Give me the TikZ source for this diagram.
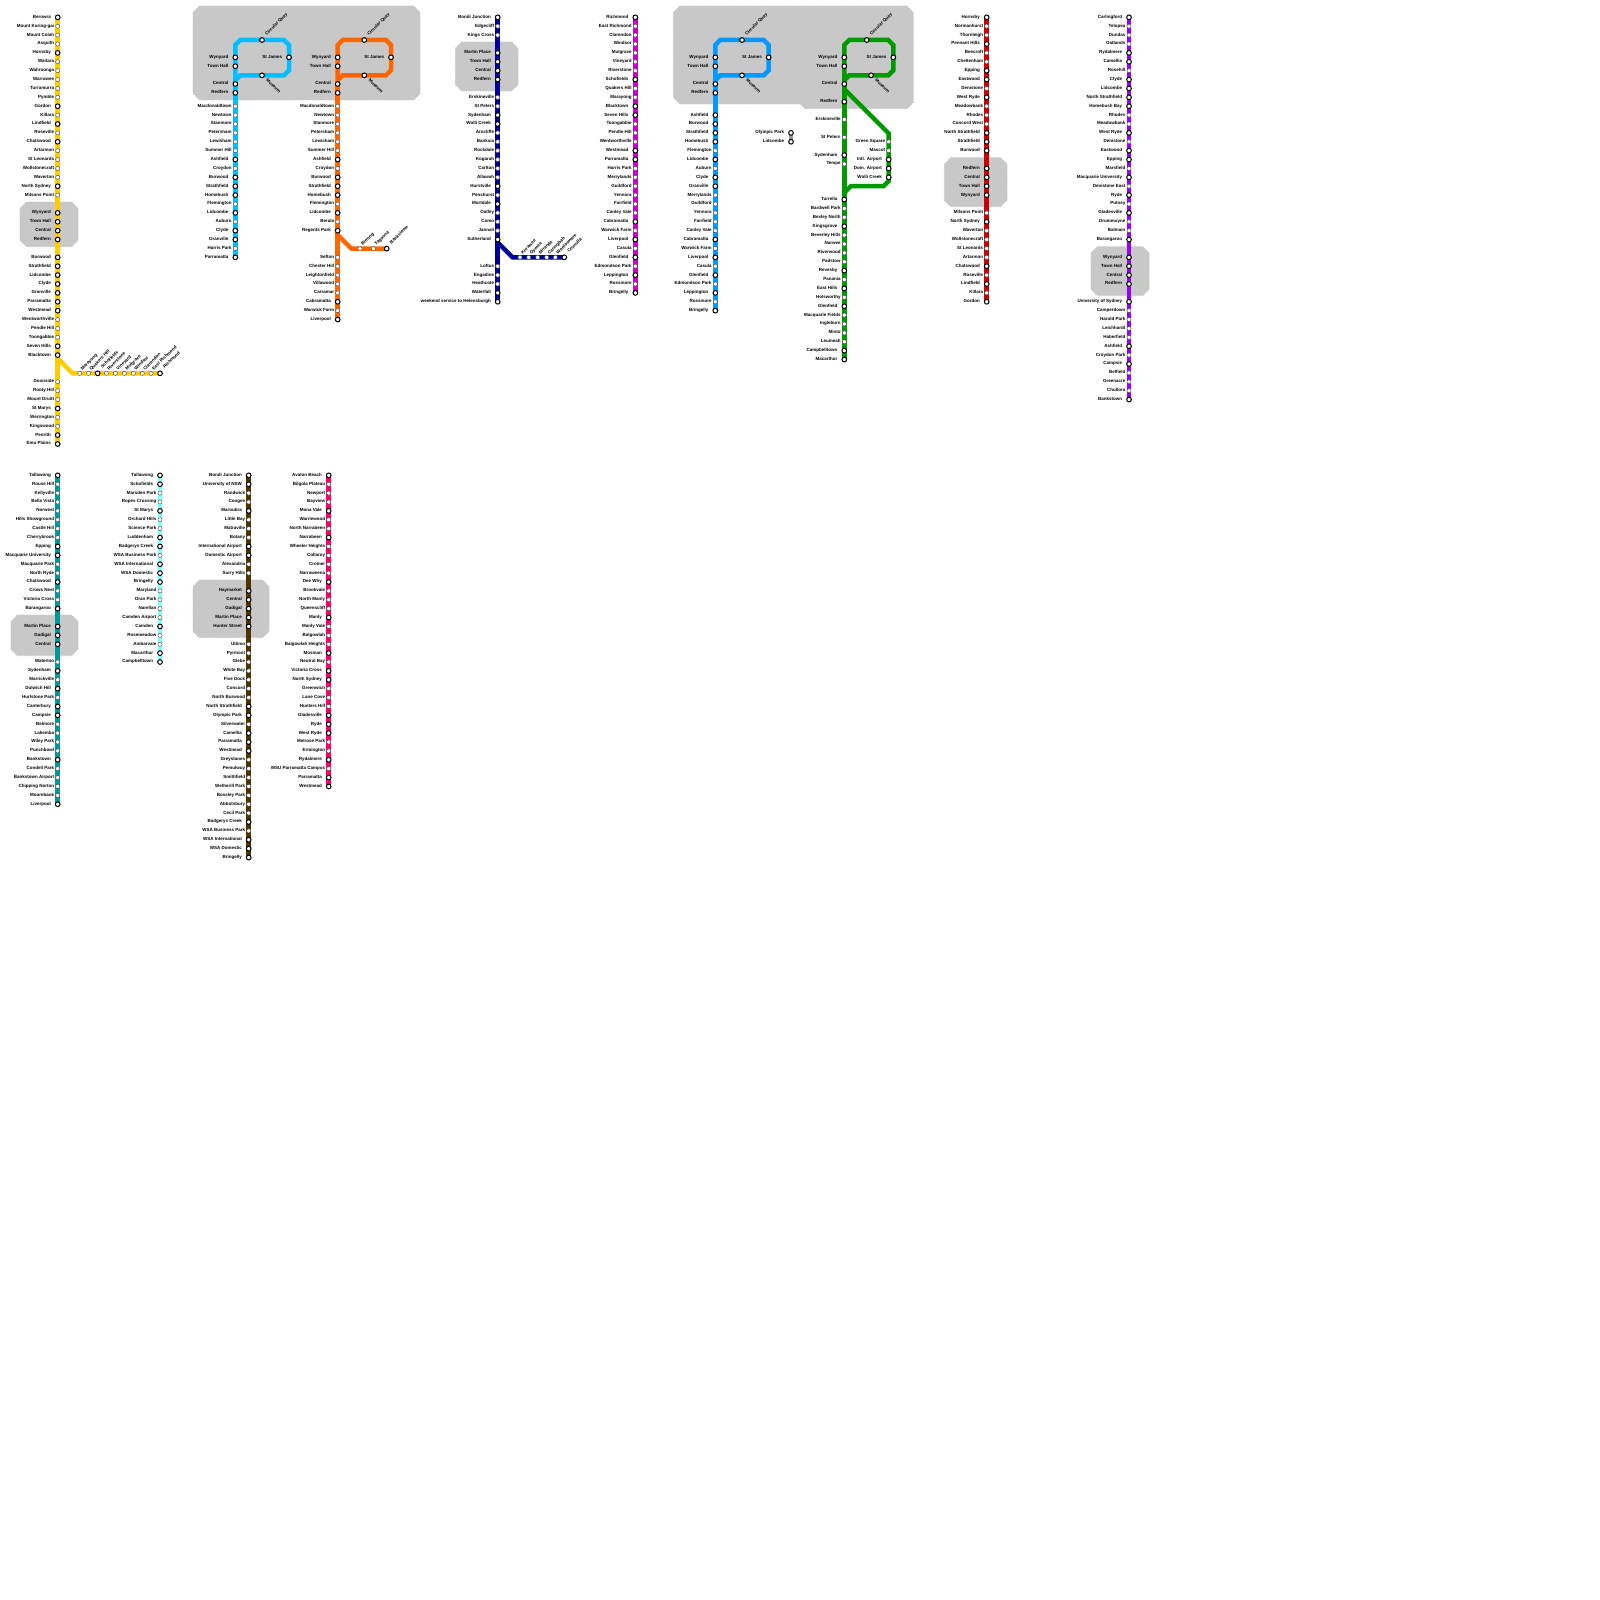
\documentclass[tikz,border=0pt]{standalone}
\usepackage{fontspec}
\setmainfont{Liberation Sans}
\pgfdeclarelayer{boxes}
\pgfdeclarelayer{routes}
\pgfsetlayers{boxes,routes,main}
\definecolor{cYellow}{HTML}{FFCC00}
\definecolor{cCyan}{HTML}{00BFFF}
\definecolor{cOrange}{HTML}{FF6600}
\definecolor{cNavy}{HTML}{000099}
\definecolor{cMagenta}{HTML}{CC00CC}
\definecolor{cBlue}{HTML}{0099FF}
\definecolor{cGreen}{HTML}{009900}
\definecolor{cRed}{HTML}{CC0000}
\definecolor{cPurple}{HTML}{9900FF}
\definecolor{cTeal}{HTML}{009999}
\definecolor{cAqua}{HTML}{80FFFF}
\definecolor{cBrown}{HTML}{4D3300}
\definecolor{cPink}{HTML}{FF0066}
\definecolor{cBox}{HTML}{C8C8C8}
\definecolor{cLink}{HTML}{999999}
\tikzset{
  sti/.style={circle,draw=black,fill=white,line width=1pt,minimum size=4.7pt,inner sep=0pt},
  stn/.style={circle,draw=black!75,fill=white,line width=0.4pt,minimum size=4.2pt,inner sep=0pt},
  labbase/.style={inner sep=0pt,font=\fontsize{4.5}{5}\bfseries\selectfont,text height=3pt,text depth=1.1pt},
  labi/.style={labbase,anchor=east,xshift=-6.7pt},
  labn/.style={labbase,anchor=east,xshift=-3.4pt},
  upi/.style={labbase,anchor=west,xshift=4pt,yshift=5pt,rotate=45},
  upn/.style={labbase,anchor=west,xshift=2pt,yshift=3.3pt,rotate=45},
  downi/.style={labbase,anchor=west,xshift=4.5pt,yshift=-4.5pt,rotate=-45},
  route/.style={line width=4.5pt,line join=miter,line cap=butt},
  areabox/.style={fill=cBox,draw=cBox,line width=0.8pt,dash pattern=on 1.6pt off 1.2pt}
}
% #1 prefix, #2 x, #3 y of slot 0, #4 slot/name/type list
\newcommand{\stationcolumn}[4]{%
  \foreach \pos/\nm/\ty in {#4}{%
    \node[st\ty] (#1 \nm) at (#2,{#3+8.889*\pos}) {};
    \node[lab\ty] (#1 \nm l) at (#1 \nm) {\nm};
  }%
}
% #1 prefix, #2 y, #3 x/name/type list
\newcommand{\stationrow}[3]{%
  \foreach \xx/\nm/\ty in {#3}{%
    \node[st\ty] (#1 \nm) at (\xx,#2) {};
    \node[up\ty] (#1 \nm l) at (#1 \nm) {\nm};
  }%
}
% #1 prefix, #2 line x, #3 Circular Quay x, #4 St James x, #5 Museum x, #6 colour
\newcommand{\cityloop}[6]{%
  \node[sti] (#1 Circular Quay) at (#3,40) {};
  \node[upi] (#1 Circular Quay l) at (#1 Circular Quay) {Circular Quay};
  \node[sti] (#1 St James) at (#4,57.33) {};
  \node[labi] (#1 St James l) at (#1 St James) {St James};
  \node[sti] (#1 Museum) at (#5,75.3) {};
  \node[downi] (#1 Museum l) at (#1 Museum) {Museum};
  \coordinate (#1 a) at ({#2},80.3);
  \coordinate (#1 b) at ({#2+5},75.3);
  \coordinate (#1 c) at ({#4-5},75.3);
  \coordinate (#1 d) at (#4,70.3);
  \coordinate (#1 e) at (#4,45);
  \coordinate (#1 f) at ({#4-5},40);
  \coordinate (#1 g) at ({#2+5},40);
  \coordinate (#1 h) at (#2,45);
  \begin{pgfonlayer}{routes}
    \draw[route,#6] (#1 Central.center) -- (#1 a) -- (#1 b) -- (#1 c) -- (#1 d) -- (#1 e) -- (#1 f) -- (#1 g) -- (#1 h) -- (#1 Central.center);
  \end{pgfonlayer}
}
\newcommand{\octbox}[5]{% name, x0,y0,x1,y1
  \begin{pgfonlayer}{boxes}
    \draw[areabox] ({#2+6.5},#3) -- ({#4-6.5},#3) -- (#4,{#3+6.5}) -- (#4,{#5-6.5}) -- ({#4-6.5},#5) -- ({#2+6.5},#5) -- (#2,{#5-6.5}) -- (#2,{#3+6.5}) -- cycle;
  \end{pgfonlayer}
}
\begin{document}
\begin{tikzpicture}[x=1pt,y=-1pt]
\useasboundingbox (0,0) rectangle (1600,1600);
\begin{pgfonlayer}{boxes}
  \fill[white] (0,0) rectangle (1600,1600);
\end{pgfonlayer}

% ---------- grey areas
\octbox{b1}{20}{202}{78}{246.7}
\octbox{b2}{193}{6}{420}{100}
\octbox{b3}{455.3}{42}{518}{91}
\begin{pgfonlayer}{boxes}
  \draw[areabox] (680,6) -- (906.8,6) -- (913.3,12.5) -- (913.3,102.2) -- (906.8,108.7) -- (805,108.7) -- (800.5,104) -- (680,104) -- (673.3,97.5) -- (673.3,12.5) -- cycle;
\end{pgfonlayer}
\octbox{b5}{944.3}{157.7}{1007}{206.7}
\octbox{b6}{1091}{246.7}{1149}{295.7}
\octbox{b7}{11}{615}{78}{655.7}
\octbox{b8}{193}{580}{269}{637.7}

% ---------- yellow
\stationcolumn{Y}{57.7}{17.33}{0/Berowra/i,1/Mount Kuring-gai/n,2/Mount Colah/n,3/Asquith/n,4/Hornsby/i,5/Waitara/n,6/Wahroonga/n,7/Warrawee/n,8/Turramurra/n,9/Pymble/n,10/Gordon/i,11/Killara/n,12/Lindfield/i,13/Roseville/n,14/Chatswood/i,15/Artarmon/n,16/St Leonards/n,17/Wollstonecraft/n,18/Waverton/n,19/North Sydney/i,20/Milsons Point/n,22/Wynyard/i,23/Town Hall/i,24/Central/i,25/Redfern/i,27/Burwood/i,28/Strathfield/i,29/Lidcombe/i,30/Clyde/i,31/Granville/i,32/Parramatta/i,33/Westmead/i,34/Wentworthville/n,35/Pendle Hill/n,36/Toongabbie/n,37/Seven Hills/i,38/Blacktown/i,41/Doonside/n,42/Rooty Hill/n,43/Mount Druitt/n,44/St Marys/i,45/Werrington/n,46/Kingswood/n,47/Penrith/i,48/Emu Plains/i}
\stationrow{Y}{373.3}{79.7/Marayong/n,88.6/Quakers Hill/n,97.7/Schofields/i,106.4/Riverstone/n,115.3/Vineyard/n,124.3/Mulgrave/n,133.3/Windsor/n,142.3/Clarendon/n,151/East Richmond/n,160/Richmond/i}
\coordinate (Y fork) at (57.7,358.5);
\coordinate (Y bend) at (72.5,373.3);
\begin{pgfonlayer}{routes}
  \draw[route,cYellow] (Y Berowra.center) -- (Y Emu Plains.center);
  \draw[route,cYellow] (Y fork) -- (Y bend) -- (Y Richmond.center);
\end{pgfonlayer}

% ---------- cyan
\stationcolumn{C}{235.3}{17.33}{4.5/Wynyard/i,5.5/Town Hall/i,7.5/Central/i,8.5/Redfern/i,10/Macdonaldtown/n,11/Newtown/n,12/Stanmore/n,13/Petersham/n,14/Lewisham/n,15/Summer Hill/n,16/Ashfield/i,17/Croydon/n,18/Burwood/i,19/Strathfield/i,20/Homebush/i,21/Flemington/n,22/Lidcombe/i,23/Auburn/n,24/Clyde/i,25/Granville/i,26/Harris Park/n,27/Parramatta/i}
\cityloop{C}{235.3}{262}{289}{262}{cCyan}
\begin{pgfonlayer}{routes}
  \draw[route,cCyan] (C Central.center) -- (C Parramatta.center);
\end{pgfonlayer}

% ---------- orange
\stationcolumn{O}{337.7}{17.33}{4.5/Wynyard/i,5.5/Town Hall/i,7.5/Central/i,8.5/Redfern/i,10/Macdonaldtown/n,11/Newtown/n,12/Stanmore/n,13/Petersham/n,14/Lewisham/n,15/Summer Hill/n,16/Ashfield/i,17/Croydon/n,18/Burwood/i,19/Strathfield/i,20/Homebush/i,21/Flemington/n,22/Lidcombe/i,23/Berala/n,24/Regents Park/i,27/Sefton/n,28/Chester Hill/n,29/Leightonfield/n,30/Villawood/n,31/Carramar/n,32/Cabramatta/i,33/Warwick Farm/n,34/Liverpool/i}
\cityloop{O}{337.7}{364.3}{391}{364.3}{cOrange}
\stationrow{O}{248.7}{360/Birrong/n,373.3/Yagoona/n,386.7/Bankstown/i}
\coordinate (O fork) at (337.7,235);
\coordinate (O bend) at (351.4,248.7);
\begin{pgfonlayer}{routes}
  \draw[route,cOrange] (O Central.center) -- (O Liverpool.center);
  \draw[route,cOrange] (O fork) -- (O bend) -- (O Bankstown.center);
\end{pgfonlayer}

% ---------- navy
\stationcolumn{N}{497.7}{17.33}{0/Bondi Junction/i,1/Edgecliff/n,2/Kings Cross/n,4/Martin Place/i,5/Town Hall/i,6/Central/i,7/Redfern/i,9/Erskineville/n,10/St Peters/n,11/Sydenham/i,12/Wolli Creek/i,13/Arncliffe/n,14/Banksia/n,15/Rockdale/n,16/Kogarah/n,17/Carlton/n,18/Allawah/n,19/Hurstville/i,20/Penshurst/n,21/Mortdale/i,22/Oatley/n,23/Como/n,24/Jannali/n,25/Sutherland/i,28/Loftus/n,29/Engadine/n,30/Heathcote/n,31/Waterfall/i,32/weekend service to Helensburgh/i}
\stationrow{N}{257.3}{520/Kirrawee/n,528.7/Gymea/n,537.7/Miranda/n,546.7/Caringbah/n,555.3/Woolooware/n,564.3/Cronulla/i}
\coordinate (N fork) at (497.7,242.5);
\coordinate (N bend) at (512.5,257.3);
\begin{pgfonlayer}{routes}
  \draw[route,cNavy] (N Bondi Junction.center) -- (N weekend service to Helensburgh.center);
  \draw[route,cNavy] (N fork) -- (N bend) -- (N Cronulla.center);
\end{pgfonlayer}

% ---------- magenta
\stationcolumn{M}{635.3}{17.33}{0/Richmond/i,1/East Richmond/n,2/Clarendon/n,3/Windsor/n,4/Mulgrave/n,5/Vineyard/n,6/Riverstone/n,7/Schofields/i,8/Quakers Hill/n,9/Marayong/n,10/Blacktown/i,11/Seven Hills/i,12/Toongabbie/n,13/Pendle Hill/n,14/Wentworthville/n,15/Westmead/i,16/Parramatta/i,17/Harris Park/n,18/Merrylands/n,19/Guildford/n,20/Yennora/n,21/Fairfield/n,22/Canley Vale/n,23/Cabramatta/i,24/Warwick Farm/n,25/Liverpool/i,26/Casula/n,27/Glenfield/i,28/Edmondson Park/n,29/Leppington/i,30/Rossmore/n,31/Bringelly/i}
\begin{pgfonlayer}{routes}
  \draw[route,cMagenta] (M Richmond.center) -- (M Bringelly.center);
\end{pgfonlayer}

% ---------- blue
\stationcolumn{B}{715.3}{17.33}{4.5/Wynyard/i,5.5/Town Hall/i,7.5/Central/i,8.5/Redfern/i,11/Ashfield/i,12/Burwood/i,13/Strathfield/i,14/Homebush/i,15/Flemington/n,16/Lidcombe/i,17/Auburn/n,18/Clyde/i,19/Granville/i,20/Merrylands/n,21/Guildford/n,22/Yennora/n,23/Fairfield/n,24/Canley Vale/n,25/Cabramatta/i,26/Warwick Farm/n,27/Liverpool/i,28/Casula/n,29/Glenfield/i,30/Edmondson Park/n,31/Leppington/i,32/Rossmore/n,33/Bringelly/i}
\cityloop{B}{715.3}{742}{768.7}{742}{cBlue}
\begin{pgfonlayer}{routes}
  \draw[route,cBlue] (B Central.center) -- (B Bringelly.center);
\end{pgfonlayer}

% ---------- Olympic Park shuttle
\stationcolumn{S}{791}{17.33}{13/Olympic Park/i,14/Lidcombe/i}
\begin{pgfonlayer}{routes}
  \draw[route,cLink] (S Olympic Park.center) -- (S Lidcombe.center);
\end{pgfonlayer}

% ---------- green
\stationcolumn{G}{844.3}{17.33}{4.5/Wynyard/i,5.5/Town Hall/i,7.5/Central/i,9.5/Redfern/i,11.5/Erskineville/n,13.5/St Peters/n,15.5/Sydenham/i,16.5/Tempe/n,20.5/Turrella/i,21.5/Bardwell Park/n,22.5/Bexley North/n,23.5/Kingsgrove/i,24.5/Beverley Hills/n,25.5/Narwee/n,26.5/Riverwood/n,27.5/Padstow/n,28.5/Revesby/i,29.5/Panania/n,30.5/East Hills/i,31.5/Holsworthy/n,32.5/Glenfield/i,33.5/Macquarie Fields/n,34.5/Ingleburn/n,35.5/Minto/n,36.5/Leumeah/n,37.5/Campbelltown/i,38.5/Macarthur/i}
\stationcolumn{G}{888.7}{17.33}{14/Green Square/n,15/Mascot/n,18/Wolli Creek/i}
\node[sti] (G Intl Airport) at (888.7,159.55) {};
\node[labi] (G Intl Airport l) at (G Intl Airport) {Intl. Airport};
\node[sti] (G Dom Airport) at (888.7,168.44) {};
\node[labi] (G Dom Airport l) at (G Dom Airport) {Dom. Airport};
\cityloop{G}{844.3}{866.7}{893.3}{871}{cGreen}
\coordinate (G fork) at (844.3,89);
\coordinate (G top) at (888.7,133.4);
\coordinate (G low) at (888.7,181);
\coordinate (G lowb) at (883.7,186);
\coordinate (G lowc) at (851,186);
\coordinate (G join) at (844.3,192.7);
\begin{pgfonlayer}{routes}
  \draw[route,cGreen] (G Central.center) -- (G Macarthur.center);
  \draw[route,cGreen] (G fork) -- (G top) -- (G low) -- (G lowb) -- (G lowc) -- (G join);
\end{pgfonlayer}

% ---------- red
\stationcolumn{R}{986.7}{17.33}{0/Hornsby/i,1/Normanhurst/n,2/Thornleigh/n,3/Pennant Hills/i,4/Beecroft/n,5/Cheltenham/n,6/Epping/i,7/Eastwood/i,8/Denistone/n,9/West Ryde/i,10/Meadowbank/n,11/Rhodes/n,12/Concord West/n,13/North Strathfield/i,14/Strathfield/i,15/Burwood/i,17/Redfern/i,18/Central/i,19/Town Hall/i,20/Wynyard/i,22/Milsons Point/n,23/North Sydney/i,24/Waverton/n,25/Wollstonecraft/n,26/St Leonards/n,27/Artarmon/n,28/Chatswood/i,29/Roseville/n,30/Lindfield/i,31/Killara/n,32/Gordon/i}
\begin{pgfonlayer}{routes}
  \draw[route,cRed] (R Hornsby.center) -- (R Gordon.center);
\end{pgfonlayer}

% ---------- purple
\stationcolumn{P}{1129}{17.33}{0/Carlingford/i,1/Telopea/n,2/Dundas/n,3/Oatlands/n,4/Rydalmere/i,5/Camellia/i,6/Rosehill/n,7/Clyde/i,8/Lidcombe/i,9/North Strathfield/i,10/Homebush Bay/i,11/Rhodes/n,12/Meadowbank/n,13/West Ryde/i,14/Denistone/n,15/Eastwood/i,16/Epping/i,17/Marsfield/n,18/Macquarie University/i,19/Denistone East/n,20/Ryde/i,21/Putney/n,22/Gladesville/i,23/Drummoyne/n,24/Balmain/n,25/Barangaroo/i,27/Wynyard/i,28/Town Hall/i,29/Central/i,30/Redfern/i,32/University of Sydney/i,33/Camperdown/n,34/Harold Park/n,35/Leichhardt/n,36/Haberfield/n,37/Ashfield/i,38/Croydon Park/n,39/Campsie/i,40/Belfield/n,41/Greenacre/n,42/Chullora/n,43/Bankstown/i}
\begin{pgfonlayer}{routes}
  \draw[route,cPurple] (P Carlingford.center) -- (P Bankstown.center);
\end{pgfonlayer}

% ---------- teal
\stationcolumn{T}{57.7}{475.33}{0/Tallawong/i,1/Rouse Hill/n,2/Kellyville/n,3/Bella Vista/n,4/Norwest/n,5/Hills Showground/n,6/Castle Hill/n,7/Cherrybrook/n,8/Epping/i,9/Macquarie University/i,10/Macquarie Park/n,11/North Ryde/n,12/Chatswood/i,13/Crows Nest/n,14/Victoria Cross/n,15/Barangaroo/i,17/Martin Place/i,18/Gadigal/i,19/Central/i,21/Waterloo/n,22/Sydenham/i,23/Marrickville/n,24/Dulwich Hill/i,25/Hurlstone Park/n,26/Canterbury/i,27/Campsie/i,28/Belmore/n,29/Lakemba/n,30/Wiley Park/n,31/Punchbowl/n,32/Bankstown/i,33/Condell Park/n,34/Bankstown Airport/n,35/Chipping Norton/n,36/Moorebank/n,37/Liverpool/i}
\begin{pgfonlayer}{routes}
  \draw[route,cTeal] (T Tallawong.center) -- (T Liverpool.center);
\end{pgfonlayer}

% ---------- aqua
\stationcolumn{A}{160}{475.33}{0/Tallawong/i,1/Schofields/i,2/Marsden Park/n,3/Ropes Crossing/n,4/St Marys/i,5/Orchard Hills/n,6/Science Park/n,7/Luddenham/i,8/Badgerys Creek/i,9/WSA Business Park/n,10/WSA International/i,11/WSA Domestic/i,12/Bringelly/i,13/Maryland/n,14/Oran Park/n,15/Narellan/n,16/Camden Airport/n,17/Camden/i,18/Rosemeadow/n,19/Ambarvale/n,20/Macarthur/i,21/Campbelltown/i}
\begin{pgfonlayer}{routes}
  \draw[route,cAqua] (A Tallawong.center) -- (A Campbelltown.center);
\end{pgfonlayer}

% ---------- brown
\stationcolumn{W}{248.7}{475.33}{0/Bondi Junction/i,1/University of NSW/i,2/Randwick/n,3/Coogee/n,4/Maroubra/i,5/Little Bay/n,6/Matraville/n,7/Botany/n,8/International Airport/i,9/Domestic Airport/i,10/Alexandria/n,11/Surry Hills/n,13/Haymarket/i,14/Central/i,15/Gadigal/i,16/Martin Place/i,17/Hunter Street/i,19/Ultimo/n,20/Pyrmont/n,21/Glebe/n,22/White Bay/n,23/Five Dock/n,24/Concord/n,25/North Burwood/n,26/North Strathfield/i,27/Olympic Park/i,28/Silverwater/n,29/Camellia/i,30/Parramatta/i,31/Westmead/i,32/Greystanes/n,33/Pemulwuy/n,34/Smithfield/n,35/Wetherill Park/n,36/Bossley Park/n,37/Abbotsbury/n,38/Cecil Park/n,39/Badgerys Creek/i,40/WSA Business Park/n,41/WSA International/i,42/WSA Domestic/i,43/Bringelly/i}
\begin{pgfonlayer}{routes}
  \draw[route,cBrown] (W Bondi Junction.center) -- (W Bringelly.center);
\end{pgfonlayer}

% ---------- pink
\stationcolumn{K}{328.7}{475.33}{0/Avalon Beach/i,1/Bilgola Plateau/n,2/Newport/n,3/Bayview/n,4/Mona Vale/i,5/Warriewood/n,6/North Narrabeen/n,7/Narrabeen/i,8/Wheeler Heights/n,9/Collaroy/n,10/Cromer/n,11/Narraweena/n,12/Dee Why/i,13/Brookvale/n,14/North Manly/n,15/Queenscliff/n,16/Manly/i,17/Manly Vale/n,18/Balgowlah/n,19/Balgowlah Heights/n,20/Mosman/i,21/Neutral Bay/n,22/Victoria Cross/i,23/North Sydney/i,24/Greenwich/n,25/Lane Cove/n,26/Hunters Hill/n,27/Gladesville/i,28/Ryde/i,29/West Ryde/i,30/Melrose Park/n,31/Ermington/n,32/Rydalmere/i,33/WSU Parramatta Campus/n,34/Parramatta/i,35/Westmead/i}
\begin{pgfonlayer}{routes}
  \draw[route,cPink] (K Avalon Beach.center) -- (K Westmead.center);
\end{pgfonlayer}
\end{tikzpicture}
\end{document}
